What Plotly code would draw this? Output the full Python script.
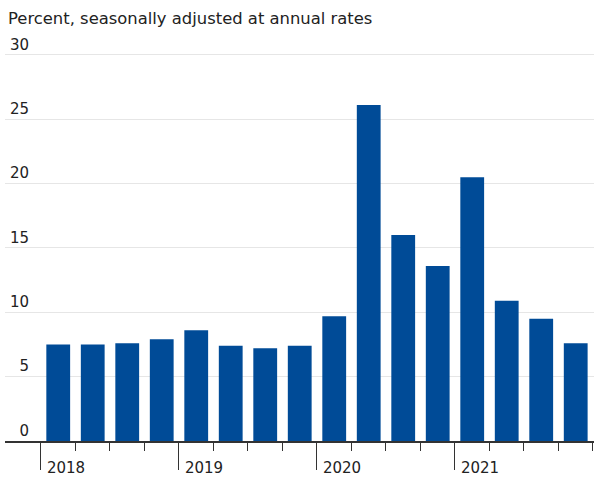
import plotly.graph_objects as go

quarters = ["2018 Q1", "2018 Q2", "2018 Q3", "2018 Q4",
            "2019 Q1", "2019 Q2", "2019 Q3", "2019 Q4",
            "2020 Q1", "2020 Q2", "2020 Q3", "2020 Q4",
            "2021 Q1", "2021 Q2", "2021 Q3", "2021 Q4"]
values = [7.5, 7.5, 7.6, 7.9, 8.6, 7.4, 7.2, 7.4,
          9.7, 26.1, 16.0, 13.6, 20.5, 10.9, 9.5, 7.6]
years = ["2018", "2019", "2020", "2021"]
y_ticks = [0, 5, 10, 15, 20, 25, 30]

FS = "\u2007"  # figure space for right-aligning labels
y_text = [(FS * (2 - len(str(v)))) + str(v) for v in y_ticks]

x = list(range(len(quarters)))
year_pos = [i - 0.5 for i, q in enumerate(quarters) if q.endswith("Q1")]
quarter_edges = [i - 0.5 for i in range(len(quarters) + 1)]

FONT = "DejaVu Sans"

fig = go.Figure(go.Bar(
    x=x, y=values,
    marker=dict(color="#004b97", line=dict(width=0)),
    width=0.69,
    hovertext=quarters,
))

fig.update_layout(
    width=594, height=477,
    margin=dict(l=5, r=0, t=37, b=34),
    paper_bgcolor="white", plot_bgcolor="white",
    showlegend=False,
    font=dict(family=FONT, size=15, color="#222222"),
    title=dict(
        text="Percent, seasonally adjusted at annual rates",
        x=0, xref="container", xanchor="left",
        y=1 - 18 / 477, yref="container", yanchor="middle",
        pad=dict(l=8),
        font=dict(family=FONT, size=16.4, color="#222222"),
    ),
    xaxis=dict(
        range=[-1.543, 15.53],
        tickmode="array", tickvals=year_pos, ticktext=years,
        ticks="outside", ticklen=27, tickwidth=1.2, tickcolor="#333333",
        ticklabelshift=25, ticklabelstandoff=-15,
        tickfont=dict(family=FONT, size=15, color="#222222"),
        minor=dict(tickmode="array", tickvals=quarter_edges,
                   ticks="outside", ticklen=8, tickwidth=1.2,
                   tickcolor="#333333", showgrid=False),
        showline=True, linecolor="#333333", linewidth=1.5,
        showgrid=False, zeroline=False, fixedrange=True,
    ),
    yaxis=dict(
        range=[0, 31.39],
        tickmode="array", tickvals=y_ticks, ticktext=y_text,
        ticklabelposition="inside top", ticks="", ticklabelstandoff=2,
        ticklabeloverflow="allow",
        tickfont=dict(family=FONT, size=15, color="#222222"),
        showgrid=True, gridcolor="#e6e6e6", gridwidth=1.2,
        zeroline=False, showline=False, fixedrange=True,
    ),
)

fig.write_html("out.html", config={"displayModeBar": False},
               post_script="document.body.style.margin='0px';")
